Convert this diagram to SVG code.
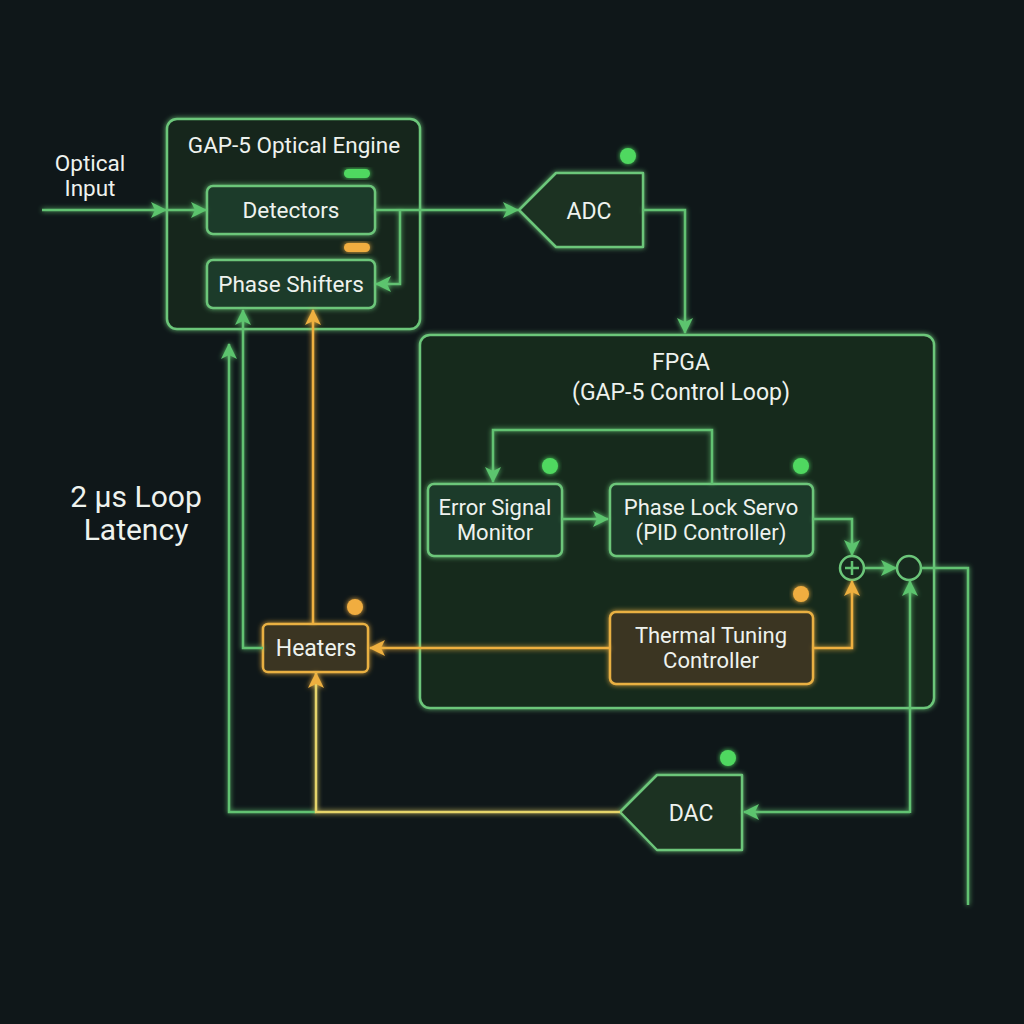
<svg xmlns="http://www.w3.org/2000/svg" width="1024" height="1024" viewBox="0 0 1024 1024">
<defs>
<filter id="glow" x="-20%" y="-20%" width="140%" height="140%">
<feGaussianBlur in="SourceGraphic" stdDeviation="2.5" result="b"/>
<feMerge><feMergeNode in="b"/><feMergeNode in="SourceGraphic"/></feMerge>
</filter>
<marker id="ag2" viewBox="0 0 16 16" refX="15" refY="8" markerWidth="16" markerHeight="16" markerUnits="userSpaceOnUse" orient="auto">
<path d="M0,0 L16,8 L0,16 L4,8 Z" fill="#5cc46e"/>
</marker>
<marker id="ao2" viewBox="0 0 16 16" refX="15" refY="8" markerWidth="16" markerHeight="16" markerUnits="userSpaceOnUse" orient="auto">
<path d="M0,0 L16,8 L0,16 L4,8 Z" fill="#eeb03f"/>
</marker>
</defs>
<style>
text{font-family:Roboto,"Liberation Sans",sans-serif;fill:#eef2ee;text-anchor:middle;}
.gbox{fill:#1f3a29;stroke:#6cc67a;stroke-width:2.5;}
.obox{fill:#3b3620;stroke:#e9b043;stroke-width:2.5;}
.gl{fill:none;stroke:#62c272;stroke-width:2.5;}
.ol{fill:none;stroke:#eeb03f;stroke-width:2.5;}
.yl{fill:none;stroke:#e5d46a;stroke-width:2.5;}
.t20{font-size:22.5px;}
.t22{font-size:23px;}
.t2l{font-size:22px;}
.big{font-size:30px;}
.dg{fill:#4fd860;}
.do{fill:#f0ad3f;}
</style>
<rect width="1024" height="1024" fill="#0f1719"/>

<g id="optical-engine">
<rect x="167" y="119" width="253" height="210" rx="10" fill="#15281c" stroke="#6cc67a" stroke-width="2.5" filter="url(#glow)"/>
<text x="294" y="153" class="t20">GAP-5 Optical Engine</text>
<rect x="344" y="169" width="26" height="9" rx="4.5" class="dg" filter="url(#glow)"/>
<rect x="344" y="243" width="26" height="9" rx="4.5" class="do" filter="url(#glow)"/>
</g>
<g id="detectors">
<rect x="207" y="186" width="168" height="48" rx="6" class="gbox" filter="url(#glow)"/>
<text x="291" y="218" class="t20">Detectors</text>
</g>
<g id="phase-shifters">
<rect x="207" y="260" width="168" height="48" rx="6" class="gbox" filter="url(#glow)"/>
<text x="291" y="292" class="t20">Phase Shifters</text>
</g>
<g id="optical-input">
<text x="90" y="171" class="t20">Optical</text>
<text x="90" y="196" class="t20">Input</text>
</g>
<g id="adc">
<path d="M519,210 L556,173 L643,173 L643,247 L556,247 Z" fill="#1d3324" stroke="#6cc67a" stroke-width="2.5" stroke-linejoin="round" filter="url(#glow)"/>
<text x="589" y="219" class="t22">ADC</text>
<circle cx="628" cy="156" r="8" class="dg" filter="url(#glow)"/>
</g>
<g id="fpga">
<rect x="420" y="335" width="514" height="373" rx="10" fill="#17291e" stroke="#6cc67a" stroke-width="2.5" filter="url(#glow)"/>
<text x="681" y="370" class="t22">FPGA</text>
<text x="681" y="400" class="t22">(GAP-5 Control Loop)</text>
</g>
<g id="error-signal-monitor">
<rect x="428" y="484" width="134" height="72" rx="6" class="gbox" filter="url(#glow)"/>
<text x="495" y="515" class="t2l">Error Signal</text>
<text x="495" y="540" class="t2l">Monitor</text>
<circle cx="550" cy="466" r="8" class="dg" filter="url(#glow)"/>
</g>
<g id="phase-lock-servo">
<rect x="610" y="484" width="203" height="72" rx="6" class="gbox" filter="url(#glow)"/>
<text x="711" y="515" class="t2l">Phase Lock Servo</text>
<text x="711" y="540" class="t2l">(PID Controller)</text>
<circle cx="801" cy="466" r="8" class="dg" filter="url(#glow)"/>
</g>
<g id="thermal-tuning-controller">
<rect x="610" y="612" width="203" height="72" rx="6" class="obox" filter="url(#glow)"/>
<text x="711" y="643" class="t2l">Thermal Tuning</text>
<text x="711" y="668" class="t2l">Controller</text>
<circle cx="801" cy="594" r="8" class="do" filter="url(#glow)"/>
</g>
<g id="summer">
<circle cx="852" cy="568" r="12" fill="#17291e" stroke="#6cc67a" stroke-width="2.5"/>
<path d="M852,561 L852,575 M845,568 L859,568" class="gl" stroke-width="2"/>
</g>
<g id="junction">
<circle cx="909" cy="568" r="12" fill="#17291e" stroke="#6cc67a" stroke-width="2.5"/>
</g>
<g id="heaters">
<rect x="263" y="624" width="105" height="48" rx="5" class="obox" filter="url(#glow)"/>
<text x="316" y="656" class="t22">Heaters</text>
<circle cx="355" cy="607" r="8" class="do" filter="url(#glow)"/>
</g>
<g id="dac">
<path d="M620,812 L657,775 L742,775 L742,850 L657,850 Z" fill="#1d3324" stroke="#6cc67a" stroke-width="2.5" stroke-linejoin="round" filter="url(#glow)"/>
<text x="691" y="821" class="t22">DAC</text>
<circle cx="728" cy="758" r="8" class="dg" filter="url(#glow)"/>
</g>
<g id="latency-label">
<text x="136" y="507" class="big">2 µs Loop</text>
<text x="136" y="540" class="big">Latency</text>
</g>

<g id="connectors" filter="url(#glow)">
<path d="M42,210 L166,210" class="gl" marker-end="url(#ag2)"/>
<path d="M167,210 L206,210" class="gl" marker-end="url(#ag2)"/>
<path d="M375,210 L518,210" class="gl" marker-end="url(#ag2)"/>
<path d="M400,210 L400,284 L376,284" class="gl" marker-end="url(#ag2)"/>
<path d="M643,210 L685,210 L685,333" class="gl" marker-end="url(#ag2)"/>
<path d="M712,484 L712,430 L493,430 L493,482" class="gl" marker-end="url(#ag2)"/>
<path d="M562,519 L608,519" class="gl" marker-end="url(#ag2)"/>
<path d="M813,519 L852,519 L852,555" class="gl" marker-end="url(#ag2)"/>
<path d="M864,568 L896,568" class="gl" marker-end="url(#ag2)"/>
<path d="M813,648 L852,648 L852,581" class="ol" marker-end="url(#ao2)"/>
<path d="M610,648 L370,648" class="ol" marker-end="url(#ao2)"/>
<path d="M313,624 L313,310" class="ol" marker-end="url(#ao2)"/>
<path d="M263,648 L243,648 L243,310" class="gl" marker-end="url(#ag2)"/>
<path d="M316,812 L229,812 L229,344" class="gl" marker-end="url(#ag2)"/>
<path d="M620,812 L316,812 L316,673" class="yl" marker-end="url(#ao2)"/>
<path d="M910,812 L744,812" class="gl" marker-end="url(#ag2)"/>
<path d="M910,813 L910,581" class="gl" marker-end="url(#ag2)"/>
<path d="M921,568 L968,568 L968,905" class="gl"/>
</g>
</svg>
